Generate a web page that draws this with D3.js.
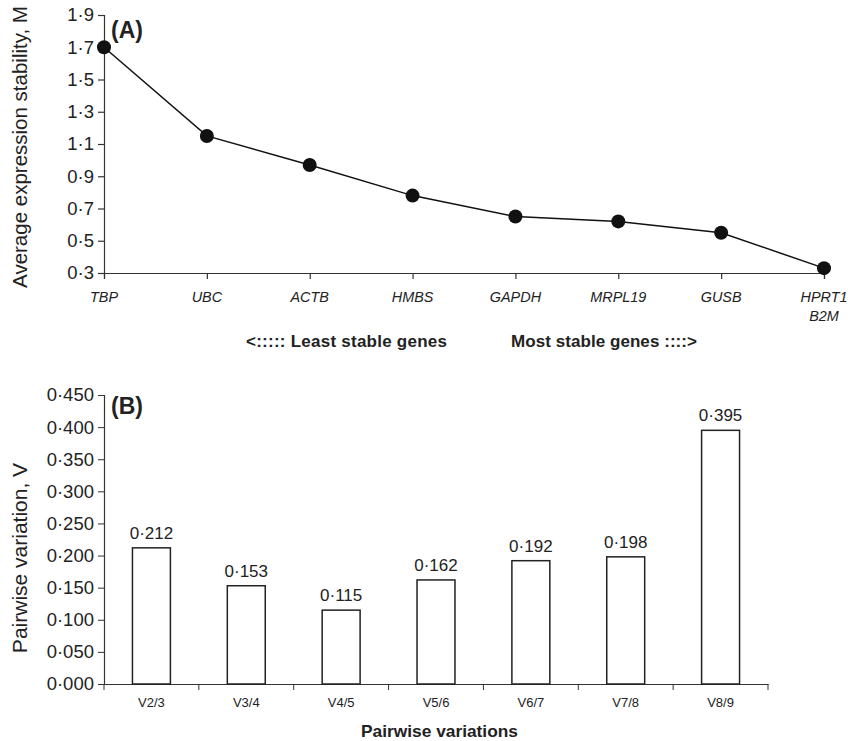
<!DOCTYPE html>
<html>
<head>
<meta charset="utf-8">
<script src="https://cdn.jsdelivr.net/npm/d3@7"></script>
<style>
  body { margin: 0; background: #fff; }
  svg text { font-family: "Liberation Sans", Arial, sans-serif; fill: #222; }
</style>
</head>
<body>
<div id="chart"></div>
<script>
// Panel A: gene stability values (M)
const genes = ["TBP", "UBC", "ACTB", "HMBS", "GAPDH", "MRPL19", "GUSB", "HPRT1\nB2M"];
const stability = [1.70, 1.15, 0.97, 0.78, 0.65, 0.62, 0.55, 0.33];
const stabilityTicks = [0.3, 0.5, 0.7, 0.9, 1.1, 1.3, 1.5, 1.7, 1.9];

// Panel B: pairwise variation (V)
const pairs = ["V2/3", "V3/4", "V4/5", "V5/6", "V6/7", "V7/8", "V8/9"];
const variation = [0.212, 0.153, 0.115, 0.162, 0.192, 0.198, 0.395];
const variationTicks = [0, 0.05, 0.1, 0.15, 0.2, 0.25, 0.3, 0.35, 0.4, 0.45];

const dot = s => s.replace(".", "\u00b7");

const svg = d3.select("#chart")
    .append("svg")
    .attr("width", 848)
    .attr("height", 741);

// ---------- Panel A ----------
const xA = d3.scalePoint()
    .domain(genes)
    .range([104, 824]);

const yA = d3.scaleLinear()
    .domain([0.3, 1.9])
    .range([273, 15]);

const gA = svg.append("g");

gA.append("g")
    .attr("transform", "translate(104,0)")
    .call(d3.axisLeft(yA).tickValues(stabilityTicks).tickSize(6).tickPadding(4)
        .tickFormat(d => dot(d3.format(".1f")(d))))
    .call(g => g.selectAll("text").style("font-size", "18.5px"));

gA.append("g")
    .attr("transform", "translate(0,273)")
    .call(d3.axisBottom(xA).tickSize(6).tickFormat(""));

gA.selectAll(".domain, .tick line").attr("stroke", "#333").attr("stroke-width", 1.2);

// gene labels (italic, possibly two lines)
gA.selectAll(".gene")
    .data(genes)
    .enter()
    .append("text")
    .attr("class", "gene")
    .attr("transform", d => "translate(" + xA(d) + ",302) scale(0.93,1)")
    .attr("text-anchor", "middle")
    .style("font-size", "15.5px")
    .style("font-style", "italic")
    .each(function (d) {
        d.split("\n").forEach((line, i) => {
            d3.select(this).append("tspan")
                .attr("x", 0)
                .attr("dy", i === 0 ? 0 : 19)
                .text(line);
        });
    });

const lineA = d3.line()
    .x((d, i) => xA(genes[i]))
    .y(d => yA(d));

gA.append("path")
    .datum(stability)
    .attr("fill", "none")
    .attr("stroke", "#111")
    .attr("stroke-width", 1.5)
    .attr("d", lineA);

gA.selectAll(".pt")
    .data(stability)
    .enter()
    .append("circle")
    .attr("cx", (d, i) => xA(genes[i]))
    .attr("cy", d => yA(d))
    .attr("r", 7)
    .attr("fill", "#111");

gA.append("text")
    .attr("x", 111)
    .attr("y", 38)
    .style("font-size", "23px")
    .style("font-weight", "bold")
    .text("(A)");

gA.append("text")
    .attr("transform", "translate(27,147) rotate(-90)")
    .attr("text-anchor", "middle")
    .style("font-size", "20.5px")
    .text("Average expression stability, M");

gA.append("text")
    .attr("x", 246)
    .attr("y", 347)
    .attr("textLength", 201)
    .attr("lengthAdjust", "spacing")
    .style("font-size", "17px")
    .style("font-weight", "bold")
    .text("<:::::  Least stable genes");

gA.append("text")
    .attr("x", 511)
    .attr("y", 347)
    .attr("textLength", 186)
    .attr("lengthAdjust", "spacing")
    .style("font-size", "17px")
    .style("font-weight", "bold")
    .text("Most stable genes ::::>");

// ---------- Panel B ----------
const xB = d3.scaleBand()
    .domain(pairs)
    .range([104, 768]);

const yB = d3.scaleLinear()
    .domain([0, 0.45])
    .range([684, 395]);

const gB = svg.append("g");

gB.append("g")
    .attr("transform", "translate(104,0)")
    .call(d3.axisLeft(yB).tickValues(variationTicks).tickSize(6).tickPadding(4)
        .tickFormat(d => dot(d3.format(".3f")(d))))
    .call(g => g.selectAll("text").style("font-size", "18.5px"));

// x axis with ticks at band boundaries
const xAxisB = gB.append("g")
    .attr("transform", "translate(0,684)")
    .call(d3.axisBottom(xB).tickSize(0).tickPadding(14));
xAxisB.selectAll("text")
    .style("font-size", "13px");

xAxisB.selectAll(".edge")
    .data(pairs.concat([null]))
    .enter()
    .append("line")
    .attr("x1", (d, i) => 104 + i * xB.step())
    .attr("x2", (d, i) => 104 + i * xB.step())
    .attr("y1", 0)
    .attr("y2", 6)
    .attr("stroke", "#333");

gB.selectAll(".domain").attr("stroke", "#333").attr("stroke-width", 1.2);
gB.selectAll(".tick line").attr("stroke", "#333");

const barW = xB.bandwidth() * 0.4;

gB.selectAll(".bar")
    .data(variation)
    .enter()
    .append("rect")
    .attr("x", (d, i) => xB(pairs[i]) + (xB.bandwidth() - barW) / 2)
    .attr("y", d => yB(d))
    .attr("width", barW)
    .attr("height", d => yB(0) - yB(d))
    .attr("fill", "#fff")
    .attr("stroke", "#222")
    .attr("stroke-width", 1.5);

gB.selectAll(".val")
    .data(variation)
    .enter()
    .append("text")
    .attr("x", (d, i) => xB(pairs[i]) + xB.bandwidth() / 2)
    .attr("y", d => yB(d) - 9)
    .attr("text-anchor", "middle")
    .style("font-size", "17px")
    .text(d => dot(d3.format(".3f")(d)));

gB.append("text")
    .attr("x", 111)
    .attr("y", 414)
    .style("font-size", "23px")
    .style("font-weight", "bold")
    .text("(B)");

gB.append("text")
    .attr("transform", "translate(27,558) rotate(-90)")
    .attr("text-anchor", "middle")
    .style("font-size", "21px")
    .text("Pairwise variation, V");

gB.append("text")
    .attr("x", 361)
    .attr("y", 737)
    .attr("textLength", 157)
    .attr("lengthAdjust", "spacingAndGlyphs")
    .style("font-size", "17px")
    .style("font-weight", "bold")
    .text("Pairwise variations");
</script>
</body>
</html>
